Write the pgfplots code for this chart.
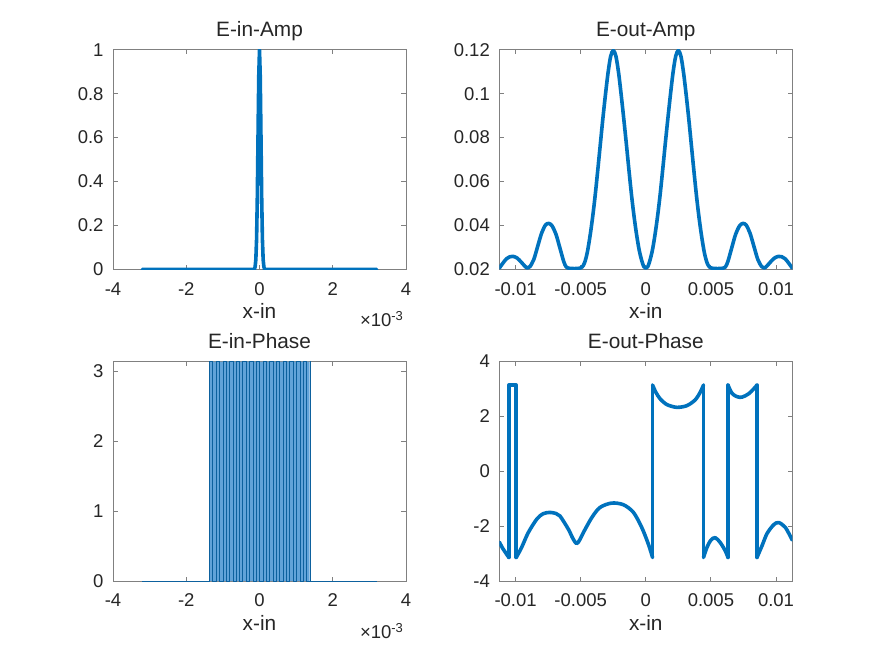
\documentclass[border=0pt]{standalone}
\usepackage{fontspec}
\setmainfont{Liberation Sans}
\usepackage{pgfplots}
\pgfplotsset{compat=1.18}
\definecolor{mblue}{rgb}{0,0.447,0.741}
\definecolor{lblue}{rgb}{0.38,0.64,0.85}
\definecolor{dblue}{rgb}{0.05,0.38,0.62}
\definecolor{axgray}{rgb}{0.5,0.5,0.5}
\definecolor{txt}{rgb}{0.15,0.15,0.15}
\newcommand{\tickfont}{\fontsize{18.5}{22}\selectfont}
\newcommand{\labfont}{\fontsize{20.8}{24}\selectfont}
\pgfplotsset{mstyle/.style={
  scale only axis, width=293pt, height=219.5pt,
  axis line style={draw=axgray, line width=0.9pt},
  tick style={draw=axgray, line width=0.9pt},
  tick align=inside, major tick length=4.5pt,
  scaled ticks=false,
  ticklabel style={font=\tickfont, text=txt, inner sep=0pt},
  xticklabel style={anchor=base, yshift=-25.7pt},
  yticklabel style={anchor=east, xshift=-9.3pt},
  title style={font=\labfont, text=txt, at={(axis description cs:0.5,1.034)}, anchor=base, inner sep=0pt},
  xlabel style={font=\labfont, text=txt, at={(axis description cs:0.5,-0.2264)}, anchor=base, inner sep=0pt},
  clip=true,
  anchor=south west,
},
ph/.style={mblue, line width=3.6pt, line join=round, line cap=round}}
\begin{document}
\begin{tikzpicture}
\fill[white] (0,0) rectangle (875pt,657pt);
\useasboundingbox (0,0) rectangle (875pt,657pt);

% ---------------- E-in-Amp ----------------
\begin{axis}[mstyle, name=tl, at={(113pt,387.7pt)},
  xmin=-4, xmax=4, ymin=0, ymax=1,
  xtick={-4,-2,0,2,4}, xticklabels={-4,-2,0,2,4},
  ytick={0,0.2,0.4,0.6,0.8,1}, yticklabels={0,0.2,0.4,0.6,0.8,1},
  title={E-in-Amp}, xlabel={x-in}]
\addplot[ph] coordinates {
(-3.2,0) (-0.14,0) (-0.12,0.011) (-0.10,0.044) (-0.08,0.135) (-0.06,0.325) (-0.04,0.607) (-0.02,0.882) (0,1)
(0.02,0.882) (0.04,0.607) (0.06,0.325) (0.08,0.135) (0.10,0.044) (0.12,0.011) (0.14,0) (3.2,0)};
\end{axis}
\node[anchor=base east, font=\tickfont, text=txt, inner sep=0pt] at ([xshift=-2.4pt,yshift=-57.4pt]tl.south east) {×10\textsuperscript{-3}};

% ---------------- E-out-Amp ----------------
\begin{axis}[mstyle, name=tr, at={(499.3pt,387.7pt)},
  xmin=-11.25, xmax=11.25, ymin=0.02, ymax=0.12,
  xtick={-10,-5,0,5,10}, xticklabels={-0.01,-0.005,0,0.005,0.01},
  ytick={0.02,0.04,0.06,0.08,0.1,0.12}, yticklabels={0.02,0.04,0.06,0.08,0.1,0.12},
  title={E-out-Amp}, xlabel={x-in}]
\addplot[ph, smooth] coordinates {
(-11.25,0.0205) (-11.0,0.0226) (-10.7,0.0248) (-10.45,0.0257) (-10.2,0.0259) (-9.9,0.0252) (-9.6,0.0235) (-9.3,0.0215) (-9.1,0.0206) (-8.9,0.0212)
(-8.6,0.0245) (-8.3,0.0305) (-8.0,0.0365) (-7.7,0.0402) (-7.45,0.0409) (-7.2,0.0398) (-6.9,0.0360) (-6.6,0.0298) (-6.3,0.0235) (-6.1,0.0210)
(-5.8,0.0204) (-5.2,0.0204) (-4.9,0.0210) (-4.7,0.0230) (-4.5,0.0275) (-4.3,0.0345) (-4.1,0.0430) (-3.9,0.0530) (-3.7,0.0645) (-3.5,0.0765)
(-3.3,0.0885) (-3.1,0.0995) (-2.9,0.1095) (-2.7,0.1170) (-2.5,0.1197) (-2.3,0.1172) (-2.1,0.1100) (-1.9,0.1000) (-1.7,0.0890) (-1.5,0.0775)
(-1.3,0.0655) (-1.1,0.0540) (-0.9,0.0440) (-0.7,0.0355) (-0.5,0.0285) (-0.3,0.0237) (-0.15,0.0212) (0,0.0205)
(0.15,0.0212) (0.3,0.0237) (0.5,0.0285) (0.7,0.0355) (0.9,0.0440) (1.1,0.0540) (1.3,0.0655) (1.5,0.0775) (1.7,0.0890) (1.9,0.1000)
(2.1,0.1100) (2.3,0.1172) (2.5,0.1197) (2.7,0.1170) (2.9,0.1095) (3.1,0.0995) (3.3,0.0885) (3.5,0.0765) (3.7,0.0645) (3.9,0.0530)
(4.1,0.0430) (4.3,0.0345) (4.5,0.0275) (4.7,0.0230) (4.9,0.0210) (5.2,0.0204) (5.8,0.0204) (6.1,0.0210) (6.3,0.0235) (6.6,0.0298)
(6.9,0.0360) (7.2,0.0398) (7.45,0.0409) (7.7,0.0402) (8.0,0.0365) (8.3,0.0305) (8.6,0.0245) (8.9,0.0212) (9.1,0.0206) (9.3,0.0215)
(9.6,0.0235) (9.9,0.0252) (10.2,0.0259) (10.45,0.0257) (10.7,0.0248) (11.0,0.0226) (11.25,0.0205)};
\end{axis}

% ---------------- E-in-Phase ----------------
\begin{axis}[mstyle, name=bl, at={(113pt,76pt)},
  xmin=-4, xmax=4, ymin=0, ymax=3.1416,
  xtick={-4,-2,0,2,4}, xticklabels={-4,-2,0,2,4},
  ytick={0,1,2,3}, yticklabels={0,1,2,3},
  title={E-in-Phase}, xlabel={x-in}]
% dense region of phase jumps (rendered as a band)
\addplot[draw=none, fill=lblue] coordinates {(-1.37,0) (-1.37,3.1416) (1.37,3.1416) (1.37,0)} \closedcycle;
\addplot[dblue, line width=0.35pt, const plot] coordinates {
(-3.2,0) (-1.37,3.1416) (-1.28,0) (-1.19,3.1416) (-1.10,0) (-1.00,3.1416) (-0.91,0) (-0.82,3.1416) (-0.73,0) (-0.64,3.1416)
(-0.55,0) (-0.46,3.1416) (-0.37,0) (-0.27,3.1416) (-0.18,0) (-0.09,3.1416) (0.00,0) (0.09,3.1416) (0.18,0) (0.27,3.1416)
(0.37,0) (0.46,3.1416) (0.55,0) (0.64,3.1416) (0.73,0) (0.82,3.1416) (0.91,0) (1.00,3.1416) (1.10,0) (1.19,3.1416)
(1.28,0) (1.37,3.1416) (1.375,0) (3.2,0)};
\end{axis}
\node[anchor=base east, font=\tickfont, text=txt, inner sep=0pt] at ([xshift=-2.4pt,yshift=-57.4pt]bl.south east) {×10\textsuperscript{-3}};

% ---------------- E-out-Phase ----------------
\begin{axis}[mstyle, name=br, at={(499.3pt,76pt)},
  xmin=-11.25, xmax=11.25, ymin=-4, ymax=4,
  xtick={-10,-5,0,5,10}, xticklabels={-0.01,-0.005,0,0.005,0.01},
  ytick={-4,-2,0,2,4}, yticklabels={-4,-2,0,2,4},
  title={E-out-Phase}, xlabel={x-in}]
\addplot[ph, smooth] coordinates {(-11.25,-2.58) (-11.0,-2.80) (-10.75,-2.98) (-10.52,-3.1416)};
\addplot[ph] coordinates {(-10.52,-3.1416) (-10.52,3.1416) (-9.95,3.1416) (-9.95,-3.1416)};
\addplot[ph, smooth] coordinates {(-9.95,-3.1416) (-9.54,-2.78) (-9.03,-2.24) (-8.38,-1.75) (-7.9,-1.55) (-7.36,-1.50) (-6.9,-1.54) (-6.59,-1.63) (-5.95,-2.11) (-5.6,-2.45) (-5.31,-2.64) (-5.05,-2.48) (-4.8,-2.24) (-4.15,-1.69) (-3.52,-1.32) (-2.62,-1.16) (-1.72,-1.22) (-0.95,-1.50) (-0.31,-2.05) (0.20,-2.66) (0.52,-3.1416)};
\addplot[ph] coordinates {(0.52,-3.1416) (0.52,3.1416)};
\addplot[ph, smooth] coordinates {(0.52,3.1416) (0.77,2.88) (1.1,2.64) (1.62,2.43) (2.38,2.33) (3.15,2.39) (3.79,2.60) (4.18,2.88) (4.43,3.1416)};
\addplot[ph] coordinates {(4.43,3.1416) (4.43,-3.1416)};
\addplot[ph, smooth] coordinates {(4.43,-3.1416) (4.69,-2.78) (5.0,-2.51) (5.33,-2.42) (5.72,-2.60) (6.1,-2.90) (6.31,-3.1416)};
\addplot[ph] coordinates {(6.31,-3.1416) (6.31,3.1416)};
\addplot[ph, smooth] coordinates {(6.31,3.1416) (6.62,2.84) (7.0,2.72) (7.38,2.70) (7.89,2.82) (8.28,3.0) (8.54,3.1416)};
\addplot[ph] coordinates {(8.54,3.1416) (8.54,-3.1416)};
\addplot[ph, smooth] coordinates {(8.54,-3.1416) (8.92,-2.72) (9.31,-2.27) (9.82,-1.95) (10.2,-1.87) (10.72,-2.05) (11.25,-2.51)};
\end{axis}
\end{tikzpicture}
\end{document}
